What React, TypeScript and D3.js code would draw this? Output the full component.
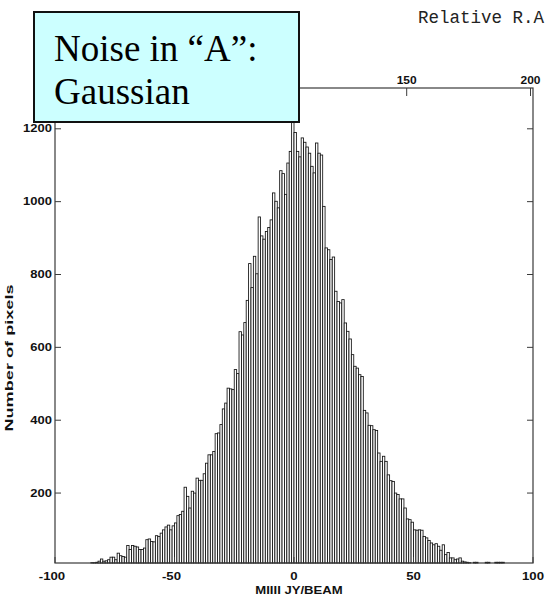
import React from "react";
import * as d3 from "d3";

// Histogram of pixel values (bins of 1 mJy/beam, starting at BIN_START)
const BIN_START = -85;
const counts = [
  9, 9, 10, 13, 19, 13, 14, 17, 24, 24, 17, 35, 28, 26, 24, 56, 45, 56, 54, 52,
  45, 45, 49, 72, 74, 67, 66, 83, 81, 90, 99, 107, 112, 99, 110, 118, 138, 141, 150, 216,
  191, 159, 205, 200, 241, 235, 235, 253, 282, 305, 305, 314, 363, 365, 388, 431, 447, 488, 486, 484,
  539, 528, 643, 634, 668, 729, 830, 764, 850, 802, 958, 906, 897, 918, 929, 950, 1024, 1001, 983, 1085,
  1077, 1020, 1106, 1138, 1217, 1190, 1138, 1123, 1175, 1163, 1150, 1133, 1097, 1079, 1161, 1133, 1128, 987, 873, 868,
  841, 848, 754, 726, 722, 731, 667, 644, 623, 580, 548, 543, 525, 520, 427, 420, 386, 385, 374, 372,
  310, 287, 301, 287, 250, 234, 232, 200, 196, 184, 184, 159, 129, 127, 120, 99, 98, 99, 98, 81,
  77, 70, 63, 58, 61, 54, 43, 58, 31, 37, 22, 22, 17, 19, 22, 13, 11, 10, 9, 8,
  10, 10, 8, 8, 8, 10, 10, 8, 8, 10, 10, 10, 10, 8,
];

const xTicks = [-100, -50, 0, 50, 100];
const yTicks = [200, 400, 600, 800, 1000, 1200];
const topTicks = [150, 200];

const W = 546;
const H = 597;
const L = 55;
const R = 533;
const T = 88;
const B = 563;

const sans = "'Liberation Sans', Arial, sans-serif";
const serif = "'Liberation Serif', 'Times New Roman', serif";

// wide, bold label text (horizontally stretched)
function Wide({
  x,
  y,
  sx,
  size,
  anchor = "middle",
  rotate = 0,
  children,
}: {
  x: number;
  y: number;
  sx: number;
  size: number;
  anchor?: string;
  rotate?: number;
  children: React.ReactNode;
}) {
  return (
    <text
      transform={`translate(${x},${y}) rotate(${rotate}) scale(${sx},1)`}
      textAnchor={anchor}
      fontFamily={sans}
      fontWeight="bold"
      fontSize={size}
      fill="#111"
    >
      {children}
    </text>
  );
}

export default function App() {
  const x = d3.scaleLinear().domain([-100, 100]).range([L, R]);
  const y = d3.scaleLinear().domain([8, 1312]).range([B, T]);
  const xTop = d3.scaleLinear().domain([8, 201]).range([L, R]);

  const bins = counts.map((c, i) => ({ x0: BIN_START + i, x1: BIN_START + i + 1, c }));
  const axisColor = "#3a3a3a";

  return (
    <svg
      width={W}
      height={H}
      style={{ position: "absolute", left: 0, top: 0, background: "#fff" }}
    >
      {/* histogram bars */}
      <g>
        {bins
          .filter((b) => b.c > 8)
          .map((b, i) => (
            <rect
              key={i}
              x={x(b.x0)}
              y={y(b.c)}
              width={x(b.x1) - x(b.x0)}
              height={B - y(b.c)}
              fill="#fff"
              stroke="#111"
              strokeWidth={0.85}
            />
          ))}
      </g>

      {/* frame */}
      <rect x={L} y={T} width={R - L} height={B - T} fill="none" stroke={axisColor} strokeWidth={1.2} />

      {/* left and right ticks */}
      {yTicks.map((t) => (
        <g key={t}>
          <line x1={L} x2={L + 6} y1={y(t)} y2={y(t)} stroke={axisColor} strokeWidth={1} />
          <line x1={R} x2={R - 6} y1={y(t)} y2={y(t)} stroke={axisColor} strokeWidth={1} />
          <Wide x={52} y={y(t) + 3.5} sx={1.3} size={10} anchor="end">
            {t}
          </Wide>
        </g>
      ))}

      {/* bottom ticks */}
      {xTicks.map((t) => (
        <g key={t}>
          <line x1={x(t)} x2={x(t)} y1={B} y2={B - 6} stroke={axisColor} strokeWidth={1} />
          <Wide x={t < 0 ? x(t) - 3 : x(t)} y={580} sx={1.2} size={11}>
            {t}
          </Wide>
        </g>
      ))}

      {/* top axis */}
      {topTicks.map((t) => (
        <g key={t}>
          <line x1={xTop(t)} x2={xTop(t)} y1={T} y2={T + 8} stroke={axisColor} strokeWidth={1} />
          <Wide x={xTop(t)} y={84} sx={1.2} size={10}>
            {t}
          </Wide>
        </g>
      ))}

      {/* axis titles */}
      <Wide x={299} y={594} sx={1.25} size={10.5}>
        MIIII JY/BEAM
      </Wide>
      <Wide x={13} y={358} sx={1.65} size={11} rotate={-90}>
        Number of pixels
      </Wide>

      <text
        x={418}
        y={23}
        fontFamily="'Liberation Mono', 'DejaVu Sans Mono', monospace"
        fontSize={17.5}
        fill="#222"
      >
        Relative R.A
      </text>

      {/* annotation box */}
      <rect x={34} y={12} width={265} height={110} fill="#ccffff" stroke="#111" strokeWidth={2} />
      <text x={54} y={61} fontFamily={serif} fontSize={37} fill="#000">
        Noise in “A”:
      </text>
      <text x={54} y={104} fontFamily={serif} fontSize={37} fill="#000">
        Gaussian
      </text>
    </svg>
  );
}
